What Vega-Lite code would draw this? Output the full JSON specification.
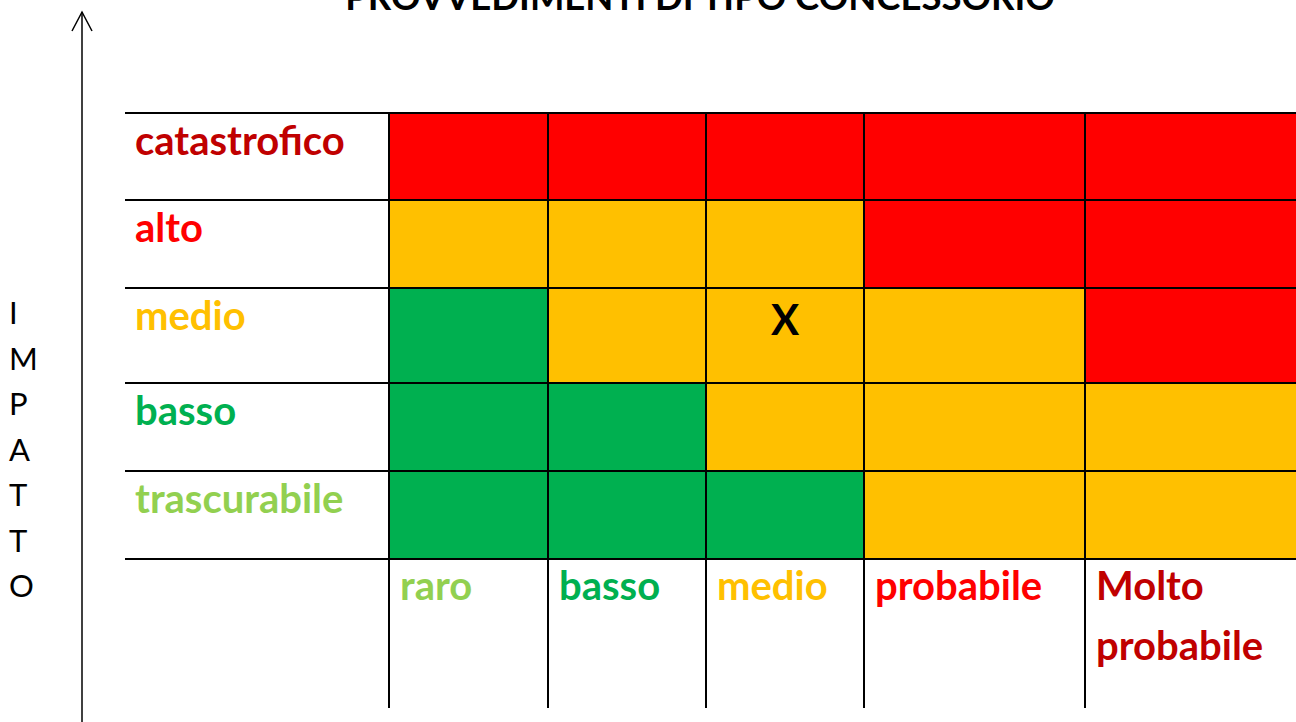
{
  "$schema": "https://vega.github.io/schema/vega-lite/v6.json",
  "width": 1296,
  "height": 722,
  "autosize": {"type": "none"},
  "padding": 0,
  "background": "#ffffff",
  "config": {"view": {"stroke": null}},
  "datasets": {
    "celle": [
      {"probabilita": "raro", "p": 0, "p2": 1, "impatto": "catastrofico", "i": 5, "i2": 6, "rischio": "alto"},
      {"probabilita": "basso", "p": 1, "p2": 2, "impatto": "catastrofico", "i": 5, "i2": 6, "rischio": "alto"},
      {"probabilita": "medio", "p": 2, "p2": 3, "impatto": "catastrofico", "i": 5, "i2": 6, "rischio": "alto"},
      {"probabilita": "probabile", "p": 3, "p2": 4, "impatto": "catastrofico", "i": 5, "i2": 6, "rischio": "alto"},
      {"probabilita": "Molto probabile", "p": 4, "p2": 5, "impatto": "catastrofico", "i": 5, "i2": 6, "rischio": "alto"},
      {"probabilita": "raro", "p": 0, "p2": 1, "impatto": "alto", "i": 4, "i2": 5, "rischio": "medio"},
      {"probabilita": "basso", "p": 1, "p2": 2, "impatto": "alto", "i": 4, "i2": 5, "rischio": "medio"},
      {"probabilita": "medio", "p": 2, "p2": 3, "impatto": "alto", "i": 4, "i2": 5, "rischio": "medio"},
      {"probabilita": "probabile", "p": 3, "p2": 4, "impatto": "alto", "i": 4, "i2": 5, "rischio": "alto"},
      {"probabilita": "Molto probabile", "p": 4, "p2": 5, "impatto": "alto", "i": 4, "i2": 5, "rischio": "alto"},
      {"probabilita": "raro", "p": 0, "p2": 1, "impatto": "medio", "i": 3, "i2": 4, "rischio": "basso"},
      {"probabilita": "basso", "p": 1, "p2": 2, "impatto": "medio", "i": 3, "i2": 4, "rischio": "medio"},
      {"probabilita": "medio", "p": 2, "p2": 3, "impatto": "medio", "i": 3, "i2": 4, "rischio": "medio"},
      {"probabilita": "probabile", "p": 3, "p2": 4, "impatto": "medio", "i": 3, "i2": 4, "rischio": "medio"},
      {"probabilita": "Molto probabile", "p": 4, "p2": 5, "impatto": "medio", "i": 3, "i2": 4, "rischio": "alto"},
      {"probabilita": "raro", "p": 0, "p2": 1, "impatto": "basso", "i": 2, "i2": 3, "rischio": "basso"},
      {"probabilita": "basso", "p": 1, "p2": 2, "impatto": "basso", "i": 2, "i2": 3, "rischio": "basso"},
      {"probabilita": "medio", "p": 2, "p2": 3, "impatto": "basso", "i": 2, "i2": 3, "rischio": "medio"},
      {"probabilita": "probabile", "p": 3, "p2": 4, "impatto": "basso", "i": 2, "i2": 3, "rischio": "medio"},
      {"probabilita": "Molto probabile", "p": 4, "p2": 5, "impatto": "basso", "i": 2, "i2": 3, "rischio": "medio"},
      {"probabilita": "raro", "p": 0, "p2": 1, "impatto": "trascurabile", "i": 1, "i2": 2, "rischio": "basso"},
      {"probabilita": "basso", "p": 1, "p2": 2, "impatto": "trascurabile", "i": 1, "i2": 2, "rischio": "basso"},
      {"probabilita": "medio", "p": 2, "p2": 3, "impatto": "trascurabile", "i": 1, "i2": 2, "rischio": "basso"},
      {"probabilita": "probabile", "p": 3, "p2": 4, "impatto": "trascurabile", "i": 1, "i2": 2, "rischio": "medio"},
      {"probabilita": "Molto probabile", "p": 4, "p2": 5, "impatto": "trascurabile", "i": 1, "i2": 2, "rischio": "medio"}
    ],
    "righe": [
      {"etichetta": "catastrofico", "grado": 5, "bordo": 6},
      {"etichetta": "alto", "grado": 4, "bordo": 5},
      {"etichetta": "medio", "grado": 3, "bordo": 4},
      {"etichetta": "basso", "grado": 2, "bordo": 3},
      {"etichetta": "trascurabile", "grado": 1, "bordo": 2}
    ],
    "colonne": [
      {"etichetta": "raro", "grado": 1, "bordo": 0},
      {"etichetta": "basso", "grado": 2, "bordo": 1},
      {"etichetta": "medio", "grado": 3, "bordo": 2},
      {"etichetta": "probabile", "grado": 4, "bordo": 3},
      {"etichetta": "Molto\nprobabile", "grado": 5, "bordo": 4}
    ],
    "lineeH": [{"e": 1}, {"e": 2}, {"e": 3}, {"e": 4}, {"e": 5}, {"e": 6}],
    "lineeV": [{"e": 0}, {"e": 1}, {"e": 2}, {"e": 3}, {"e": 4}],
    "valutazione": [{"probabilita": "medio", "p": 2, "p2": 3, "impatto": "medio", "i": 3, "i2": 4, "segno": "X"}],
    "testi": [{"titolo": "PROVVEDIMENTI DI TIPO CONCESSORIO", "asse": "I\nM\nP\nA\nT\nT\nO"}]
  },
  "layer": [
    {
      "data": {"name": "celle"},
      "mark": {"type": "rect", "strokeWidth": 0},
      "encoding": {
        "x": {"field": "p", "type": "quantitative", "axis": null,
              "scale": {"domain": [-3, -2, -1, 0, 1, 2, 3, 4, 5], "range": [0, 82, 125, 389, 548, 706, 864, 1085, 1300], "zero": false, "nice": false}},
        "x2": {"field": "p2"},
        "y": {"field": "i", "type": "quantitative", "axis": null,
              "scale": {"domain": [-1, 0, 1, 2, 3, 4, 5, 6, 7], "range": [722, 708, 559, 471, 383, 288, 200, 113, 12], "zero": false, "nice": false}},
        "y2": {"field": "i2"},
        "fill": {"field": "rischio", "type": "nominal", "legend": null,
                 "scale": {"domain": ["alto", "medio", "basso"], "range": ["#FF0000", "#FFC000", "#00B050"]}}
      }
    },
    {
      "data": {"name": "lineeH"},
      "mark": {"type": "rule", "color": "#000000", "strokeWidth": 2},
      "encoding": {
        "y": {"field": "e", "type": "quantitative"},
        "x": {"datum": -1, "type": "quantitative"},
        "x2": {"datum": 5}
      }
    },
    {
      "data": {"name": "lineeV"},
      "mark": {"type": "rule", "color": "#000000", "strokeWidth": 2},
      "encoding": {
        "x": {"field": "e", "type": "quantitative"},
        "y": {"datum": 0, "type": "quantitative"},
        "y2": {"datum": 6}
      }
    },
    {
      "data": {"name": "righe"},
      "mark": {"type": "text", "font": "Lato", "fontWeight": "bold", "fontSize": 40, "align": "left", "baseline": "alphabetic", "dx": 10, "dy": 42},
      "encoding": {
        "x": {"datum": -1, "type": "quantitative"},
        "y": {"field": "bordo", "type": "quantitative"},
        "text": {"field": "etichetta"},
        "color": {"field": "grado", "type": "ordinal", "legend": null,
                  "scale": {"domain": [1, 2, 3, 4, 5], "range": ["#92D050", "#00B050", "#FFC000", "#FF0000", "#C00000"]}}
      }
    },
    {
      "data": {"name": "colonne"},
      "mark": {"type": "text", "font": "Lato", "fontWeight": "bold", "fontSize": 40, "align": "left", "baseline": "alphabetic", "dx": 11, "dy": 41, "lineBreak": "\n", "lineHeight": 60},
      "encoding": {
        "x": {"field": "bordo", "type": "quantitative"},
        "y": {"datum": 1, "type": "quantitative"},
        "text": {"field": "etichetta"},
        "color": {"field": "grado", "type": "ordinal", "legend": null}
      }
    },
    {
      "data": {"name": "valutazione"},
      "mark": {"type": "text", "font": "Lato", "fontWeight": "bold", "fontSize": 42, "align": "center", "baseline": "alphabetic", "dx": 79, "dy": 47, "color": "#000000"},
      "encoding": {
        "x": {"field": "p", "type": "quantitative"},
        "y": {"field": "i2", "type": "quantitative"},
        "text": {"field": "segno"}
      }
    },
    {
      "data": {"name": "testi"},
      "mark": {"type": "text", "font": "Lato", "fontWeight": "bold", "fontSize": 36.5, "align": "center", "baseline": "alphabetic", "dx": -6, "dy": -2, "color": "#000000"},
      "encoding": {
        "x": {"datum": 2, "type": "quantitative"},
        "y": {"datum": 7, "type": "quantitative"},
        "text": {"field": "titolo"}
      }
    },
    {
      "data": {"name": "testi"},
      "mark": {"type": "text", "font": "Lato", "fontSize": 31, "align": "left", "baseline": "alphabetic", "dx": 9, "dy": 36, "lineBreak": "\n", "lineHeight": 45.5, "color": "#000000"},
      "encoding": {
        "x": {"datum": -3, "type": "quantitative"},
        "y": {"datum": 4, "type": "quantitative"},
        "text": {"field": "asse"}
      }
    },
    {
      "data": {"name": "testi"},
      "mark": {"type": "rule", "color": "#000000", "strokeWidth": 1.5},
      "encoding": {
        "x": {"datum": -2, "type": "quantitative"},
        "y": {"datum": 7, "type": "quantitative"},
        "y2": {"datum": -1}
      }
    },
    {
      "data": {"name": "testi"},
      "mark": {"type": "point", "shape": "M-1,1.9L0,0L1,1.9", "size": 400, "filled": false, "stroke": "#000000", "strokeWidth": 1.5, "opacity": 1},
      "encoding": {
        "x": {"datum": -2, "type": "quantitative"},
        "y": {"datum": 7, "type": "quantitative"}
      }
    }
  ]
}
